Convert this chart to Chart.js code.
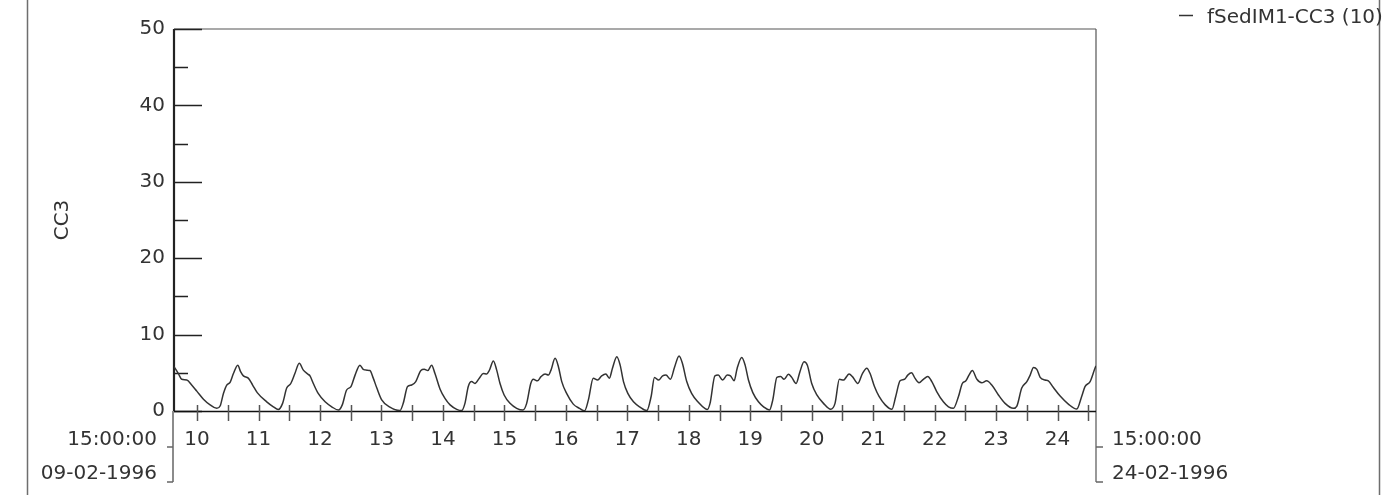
<!DOCTYPE html>
<html>
<head>
<meta charset="utf-8">
<script src="https://cdn.jsdelivr.net/npm/chart.js@4.4.1/dist/chart.umd.min.js"></script>
<style>
  html, body { margin: 0; padding: 0; background: #fff; overflow: hidden; }
  canvas { display: block; }
</style>
</head>
<body>
<canvas id="myChart" width="1389" height="495"></canvas>
<script>
// Hours since 09-02-1996 15:00:00 at the turning points of the curve.
var hours = [
  0, 1.7, 3.0, 5.0, 6.9, 8.9, 11.5, 14.1, 16.7, 18.0, 19.3, 20.6, 21.9, 23.2, 24.9, 26.0, 27.1, 29.0, 30.7, 32.5,
  36.2, 38.8, 40.7, 42.4, 44.0, 45.6, 47.2, 48.9, 50.5, 52.4, 53.1, 54.4, 56.3, 59.0, 61.6, 64.2, 65.7, 67.4, 69.1, 70.7,
  72.6, 73.9, 75.2, 76.5, 77.8, 79.2, 81.1, 84.3, 88.2, 89.5, 91.2, 92.8, 94.4, 96.4, 97.7, 99.1, 100.6, 101.9, 103.9, 105.8,
  107.8, 110.4, 112.3, 113.6, 114.9, 116.2, 117.5, 119.2, 120.8, 122.1, 123.1, 124.7, 126.0, 127.3, 128.9, 131.2, 133.8, 136.2, 137.7, 139.3,
  140.3, 141.9, 143.3, 144.9, 146.2, 147.2, 148.8, 150.1, 151.4, 153.3, 155.9, 158.3, 160.3, 161.8, 163.7, 165.4, 167.0, 168.6, 170.0, 171.2,
  172.9, 174.2, 175.5, 177.2, 179.4, 182.0, 184.6, 186.3, 187.6, 189.2, 190.8, 192.1, 193.8, 195.5, 197.2, 198.5, 200.2, 202.1, 204.8, 207.4,
  208.2, 209.3, 211.2, 212.5, 214.2, 216.0, 217.3, 218.7, 219.9, 221.7, 223.0, 224.3, 226.0, 228.2, 230.2, 232.5, 233.8, 235.4, 236.9, 238.2,
  239.9, 241.2, 242.9, 244.4, 246.0, 247.3, 249.0, 251.0, 253.6, 256.4, 258.1, 259.8, 261.4, 263.6, 264.9, 267.0, 268.8, 270.5, 271.8, 273.5,
  275.3, 277.7, 280.3, 281.8, 283.5, 285.2, 286.5, 288.0, 289.3, 290.9, 292.6, 294.3, 295.9, 297.8, 300.4, 302.4, 304.3, 306.3, 307.8, 309.2,
  310.4, 311.7, 313.5, 315.4, 317.3, 319.3, 321.9, 324.5, 327.7, 329.1, 331.0, 333.0, 334.3, 335.6, 336.9, 338.2, 340.1, 341.4, 343.3, 346.0,
  349.2, 352.5, 354.4, 355.7, 357.7, 359.6, 360
];
var cc3 = [
  5.8, 4.9, 4.15, 4.05, 3.4, 2.6, 1.55, 0.8, 0.35, 0.65, 2.3, 3.4, 3.75, 4.9, 6.0, 5.15, 4.6, 4.3, 3.4, 2.4,
  1.2, 0.55, 0.2, 1.0, 3.0, 3.6, 4.9, 6.25, 5.35, 4.8, 4.6, 3.6, 2.3, 1.2, 0.55, 0.12, 0.8, 2.75, 3.2, 4.7,
  6.0, 5.45, 5.35, 5.3, 4.3, 3.0, 1.45, 0.5, 0.05, 1.0, 3.2, 3.4, 3.85, 5.3, 5.45, 5.3, 6.0, 4.9, 2.85, 1.65,
  0.8, 0.22, 0.05, 1.0, 3.2, 3.85, 3.6, 4.3, 4.9, 4.85, 5.3, 6.55, 5.35, 3.6, 2.1, 1.0, 0.35, 0.12, 1.0, 3.6,
  4.15, 3.95, 4.5, 4.85, 4.7, 5.35, 6.9, 5.8, 3.85, 2.3, 0.9, 0.35, 0.02, 1.45, 4.3, 4.05, 4.6, 4.85, 4.3, 5.6,
  7.1, 6.0, 3.85, 2.3, 1.2, 0.5, 0.05, 1.9, 4.4, 4.05, 4.6, 4.7, 4.15, 5.8, 7.2, 6.25, 3.85, 2.3, 1.1, 0.3,
  0.2, 1.0, 4.6, 4.7, 4.05, 4.7, 4.6, 3.95, 5.6, 7.0, 6.0, 4.05, 2.4, 1.2, 0.55, 0.12, 1.45, 4.4, 4.5, 4.15,
  4.8, 4.4, 3.6, 5.15, 6.45, 6.0, 3.6, 2.1, 1.0, 0.22, 1.0, 4.15, 4.05, 4.85, 4.5, 3.6, 4.9, 5.6, 4.9, 3.2,
  1.9, 0.8, 0.22, 1.9, 3.95, 4.15, 4.7, 5.0, 4.3, 3.7, 4.15, 4.5, 3.85, 2.55, 1.2, 0.55, 0.35, 1.9, 3.6, 3.95,
  4.7, 5.3, 4.15, 3.7, 3.95, 3.4, 2.1, 1.0, 0.35, 0.65, 3.0, 3.85, 4.7, 5.7, 5.45, 4.4, 4.05, 3.95, 3.1, 1.95,
  0.9, 0.25, 1.9, 3.2, 3.85, 5.6, 5.9
];

// Day numbers written under the midnight ticks, 10 .. 24 February.
var dayLabels = ['10', '11', '12', '13', '14', '15', '16', '17', '18', '19', '20', '21', '22', '23', '24'];
var minorY = [5, 15, 25, 35, 45];
var startLabel = ['15:00:00', '09-02-1996'];
var endLabel = ['15:00:00', '24-02-1996'];
var seriesName = 'fSedIM1-CC3 (10)';

// ticks every 12 hours: midnight (labelled) and noon
var tickHours = [];
dayLabels.forEach(function (d, i) {
  tickHours.push(9 + i * 24, 21 + i * 24);
});

var ink = '#333';
var face = '"DejaVu Sans ExtraLight", "DejaVu Sans"';
Chart.defaults.font.family = face;
Chart.defaults.font.size = 20;
Chart.defaults.color = ink;

// frame, tick marks, date brackets and the legend line
var decor = {
  id: 'decor',
  beforeDatasetsDraw: function (chart) {
    var c = chart.ctx, a = chart.chartArea;
    var xs = chart.scales.x, ys = chart.scales.y;
    c.save();
    // page side lines
    c.strokeStyle = '#6e6e6e';
    c.lineWidth = 1.5;
    c.beginPath();
    c.moveTo(27.5, 0); c.lineTo(27.5, 495);
    c.moveTo(1379.5, 0); c.lineTo(1379.5, 495);
    c.stroke();
    // top and right border
    c.strokeStyle = '#555';
    c.lineWidth = 1.2;
    c.beginPath();
    c.moveTo(a.left, a.top); c.lineTo(a.right, a.top);
    c.moveTo(a.right, a.top); c.lineTo(a.right, 482);
    c.stroke();
    // brackets under the axis ends
    c.strokeStyle = '#666';
    c.lineWidth = 1.5;
    c.beginPath();
    c.moveTo(a.left - 1, a.bottom); c.lineTo(a.left - 1, 482);
    c.moveTo(a.left - 7, 447); c.lineTo(a.left - 1, 447);
    c.moveTo(a.left - 7, 482); c.lineTo(a.left - 1, 482);
    c.moveTo(a.right, 447); c.lineTo(a.right + 7, 447);
    c.moveTo(a.right, 482); c.lineTo(a.right + 7, 482);
    c.stroke();
    // y ticks, inside the plot
    c.strokeStyle = '#222';
    c.lineWidth = 1.5;
    c.beginPath();
    ys.ticks.forEach(function (t) {
      var y = Math.round(ys.getPixelForValue(t.value)) + 0.5;
      c.moveTo(a.left, y); c.lineTo(a.left + 28, y);
    });
    minorY.forEach(function (v) {
      var y = Math.round(ys.getPixelForValue(v)) + 0.5;
      c.moveTo(a.left, y); c.lineTo(a.left + 14, y);
    });
    c.stroke();
    // left axis
    c.lineWidth = 2.2;
    c.beginPath();
    c.moveTo(a.left, a.top); c.lineTo(a.left, a.bottom);
    c.stroke();
    // x axis and its ticks
    c.strokeStyle = '#111';
    c.lineWidth = 1.4;
    c.beginPath();
    c.moveTo(a.left, a.bottom + 0.5); c.lineTo(a.right, a.bottom + 0.5);
    c.stroke();
    c.strokeStyle = '#555';
    c.lineWidth = 1.5;
    c.beginPath();
    xs.ticks.forEach(function (t) {
      var x = Math.round(xs.getPixelForValue(t.value)) + 0.5;
      c.moveTo(x, a.bottom - 6); c.lineTo(x, a.bottom + 10);
    });
    c.stroke();
    c.restore();
  },
  afterDraw: function (chart) {
    var c = chart.ctx, a = chart.chartArea;
    c.save();
    c.fillStyle = ink;
    c.font = '20px ' + face;
    c.textBaseline = 'middle';
    c.textAlign = 'right';
    c.fillText(startLabel[0], a.left - 17, 440);
    c.fillText(startLabel[1], a.left - 17, 474);
    c.textAlign = 'left';
    c.fillText(endLabel[0], a.right + 16, 440);
    c.fillText(endLabel[1], a.right + 16, 474);
    // legend
    c.fillText(seriesName, 1207, 18);
    c.strokeStyle = ink;
    c.lineWidth = 1.5;
    c.beginPath();
    c.moveTo(1179, 15.5); c.lineTo(1193, 15.5);
    c.stroke();
    c.restore();
  }
};

var ctx = document.getElementById('myChart');
var myChart = new Chart(ctx, {
  type: 'line',
  data: {
    datasets: [{
      label: seriesName,
      data: hours.map(function (h, i) { return { x: h, y: cc3[i] }; }),
      borderColor: '#333',
      borderWidth: 1.5,
      pointRadius: 0,
      cubicInterpolationMode: 'monotone',
      fill: false
    }]
  },
  options: {
    responsive: false,
    devicePixelRatio: 1,
    animation: false,
    layout: { padding: { top: 29, right: 293, bottom: 0, left: 0 } },
    plugins: { legend: { display: false }, tooltip: { enabled: false } },
    scales: {
      x: {
        type: 'linear',
        min: 0,
        max: 360,
        grid: { display: false, drawTicks: false, tickLength: 0 },
        border: { display: false },
        afterBuildTicks: function (scale) {
          scale.ticks = tickHours.map(function (h) { return { value: h }; });
        },
        afterFit: function (scale) { scale.height = 84; },
        ticks: {
          autoSkip: false,
          maxRotation: 0,
          padding: 17,
          callback: function (value) {
            var i = (value - 9) / 24;
            return Number.isInteger(i) ? dayLabels[i] : '';
          }
        }
      },
      y: {
        min: 0,
        max: 50,
        grid: { display: false, drawTicks: false, tickLength: 0 },
        border: { display: false },
        afterFit: function (scale) { scale.width = 174; },
        ticks: { stepSize: 10, padding: 9 },
        title: { display: true, text: 'CC3', padding: { top: 51, bottom: 0 } }
      }
    }
  },
  plugins: [decor]
});
</script>
</body>
</html>
